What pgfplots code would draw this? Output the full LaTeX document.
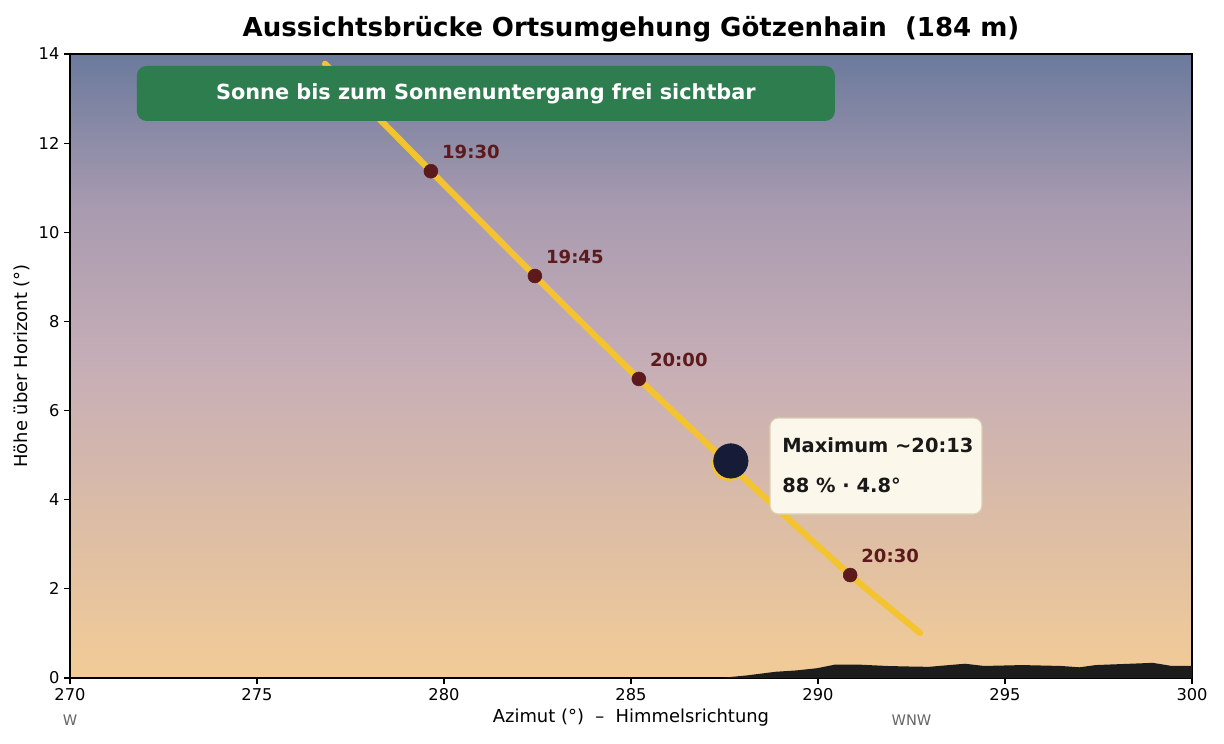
\documentclass[border=0pt]{standalone}
\usepackage{pgfplots}
\pgfplotsset{compat=1.18}
\usepackage{fontspec}
\setmainfont{DejaVu Sans}
\definecolor{skytop}{HTML}{6B7A9C}
\definecolor{skyq}{HTML}{A99BB0}
\definecolor{skymid}{HTML}{C6AEB6}
\definecolor{skybot}{HTML}{F2CC96}
\definecolor{sunline}{HTML}{F4C430}
\definecolor{tmark}{HTML}{5C1A1C}
\definecolor{moon}{HTML}{161B38}
\definecolor{boxgreen}{HTML}{2E7D4F}
\definecolor{cream}{HTML}{FBF7EA}
\definecolor{creamedge}{HTML}{D9D0B0}
\definecolor{terrain}{HTML}{1C1C1C}
\definecolor{dirgray}{HTML}{666666}
\pgfdeclareverticalshading{sky}{100bp}{color(0bp)=(skybot); color(25bp)=(skybot); color(50bp)=(skymid); color(62.5bp)=(skyq); color(75bp)=(skytop); color(100bp)=(skytop)}
\begin{document}
\begin{tikzpicture}
\path[use as bounding box] (-50.4pt,-47.52pt) rectangle (830.88pt,488.16pt);
\begin{axis}[
  at={(0,0)}, anchor=south west,
  scale only axis, width=807.84pt, height=449.28pt,
  xmin=270, xmax=300, ymin=0, ymax=14,
  xtick={270,275,280,285,290,295,300},
  ytick={0,2,4,6,8,10,12,14},
  tick align=outside, major tick length=4.1pt,
  tick style={black, line width=0.9pt},
  xtick pos=bottom, ytick pos=left,
  axis line style={line width=0.9pt},
  /pgf/number format/assume math mode=true,
  /pgf/number format/1000 sep={},
  tick label style={font=\fontsize{11.7}{14}\selectfont},
  axis background/.style={shading=sky},
  clip=false,
  title={Aussichtsbrücke Ortsumgehung Götzenhain\ \ (184 m)},
  title style={at={(axis description cs:0.5,1.027)}, anchor=center, yshift=0pt, font=\bfseries\fontsize{18.75}{22}\selectfont},
  xlabel={Azimut (°)\ \ –\ \ Himmelsrichtung},
  xlabel style={at={(axis description cs:0.5,-0.0641)}, anchor=center, font=\fontsize{12.9}{15}\selectfont},
  ylabel={Höhe über Horizont (°)},
  ylabel style={at={(axis description cs:-0.0428,0.5)}, anchor=center, font=\fontsize{12.9}{15}\selectfont},
]
% terrain
\addplot[fill=terrain, draw=none] coordinates {
 (287.38,0) (288.12,0.06) (288.87,0.14) (289.42,0.17) (289.98,0.22)
 (290.45,0.30) (291.10,0.30) (291.84,0.27) (292.30,0.26) (292.96,0.25)
 (293.51,0.29) (293.93,0.32) (294.44,0.27) (295.46,0.29) (296.49,0.27)
 (297.00,0.24) (297.42,0.29) (298.35,0.32) (298.95,0.34) (299.46,0.27)
 (300,0.27) (300,0)} -- cycle;
% sun path
\addplot[sunline, line width=4.5pt, line cap=round, smooth, tension=0.3] coordinates {
 (276.82,13.78) (279.65,11.37) (282.43,9.02) (285.21,6.71) (288.02,4.48) (290.86,2.31) (292.73,1.01)};
% time markers
\addplot[only marks, mark=*, mark size=5pt, mark options={fill=tmark, draw=tmark}] coordinates {
 (279.65,11.37) (282.43,9.02) (285.21,6.71) (290.86,2.31)};
% eclipse maximum: sun and moon
\addplot[only marks, mark=*, mark size=12.2pt, mark options={fill=sunline, draw=sunline}] coordinates {(287.62,4.81)};
\addplot[only marks, mark=*, mark size=12.4pt, mark options={fill=moon, draw=moon}] coordinates {(287.67,4.87)};
% time labels
\foreach \xx/\yy/\tt in {279.65/11.37/19:30, 282.43/9.02/19:45, 285.21/6.71/20:00, 290.86/2.31/20:30}{
  \edef\tmp{\noexpand\node[anchor=west, inner sep=0pt, xshift=7.9pt, yshift=13.7pt, text=tmark, font=\noexpand\bfseries\noexpand\fontsize{13}{15}\noexpand\selectfont] at (axis cs:\xx,\yy) {\tt};}
  \tmp
}
% green banner
\node[fill=boxgreen, rounded corners=7pt, minimum width=502.6pt, minimum height=39.6pt, text=white,
  font=\bfseries\fontsize{15}{18}\selectfont, inner sep=0pt] at (axis cs:281.12,13.115)
  {Sonne bis zum Sonnenuntergang frei sichtbar};
% maximum box
\node[fill=cream, draw=creamedge, line width=0.8pt, rounded corners=6pt, minimum width=152.6pt, minimum height=69.1pt, inner sep=0pt]
  at (axis cs:291.55,4.756) {};
\node[anchor=west, inner sep=0pt, text=black!90, font=\bfseries\fontsize{14}{16}\selectfont] at (axis cs:289.04,5.228) {Maximum \textasciitilde20:13};
\node[anchor=west, inner sep=0pt, text=black!90, font=\bfseries\fontsize{14}{16}\selectfont] at (axis cs:289.04,4.330) {88 \% · 4.8°};
% direction labels
\node[text=dirgray, font=\fontsize{10.5}{12}\selectfont, yshift=-30.2pt] at (axis cs:270,0) {W};
\node[text=dirgray, font=\fontsize{10.5}{12}\selectfont, yshift=-30.2pt] at (axis cs:292.5,0) {WNW};
\end{axis}
\end{tikzpicture}
\end{document}
